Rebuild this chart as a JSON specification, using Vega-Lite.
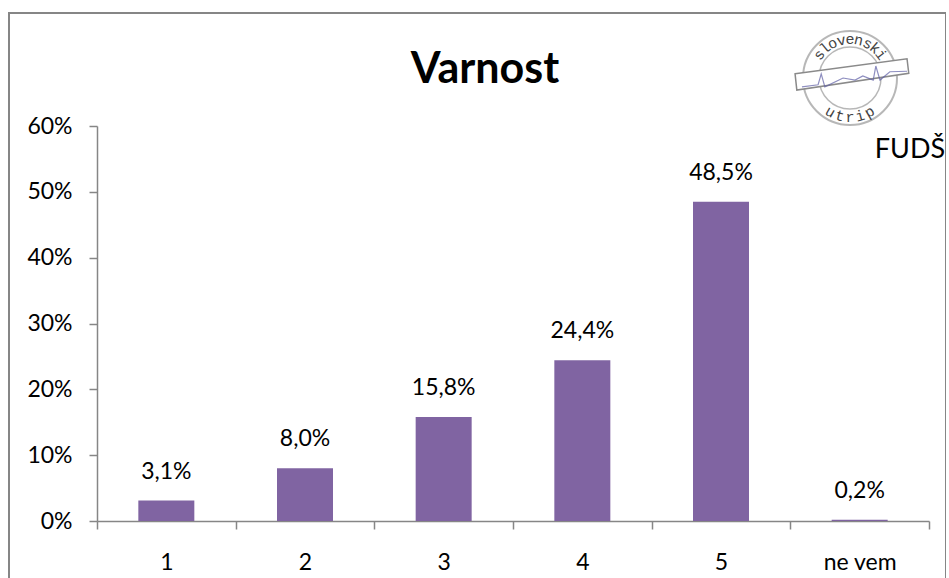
{"$schema":"https://vega.github.io/schema/vega-lite/v6.json","width":937,"height":575,"padding":{"left":9,"top":13,"right":0,"bottom":0},"autosize":"none","background":"white","data":{"values":[{"k":"1","v":3.1,"l":"3,1%"},{"k":"2","v":8.0,"l":"8,0%"},{"k":"3","v":15.8,"l":"15,8%"},{"k":"4","v":24.4,"l":"24,4%"},{"k":"5","v":48.5,"l":"48,5%"},{"k":"ne vem","v":0.2,"l":"0,2%"}]},"encoding":{"x":{"field":"k","type":"nominal","sort":null,"scale":{"range":[88,920],"paddingInner":0,"paddingOuter":0},"axis":{"title":null,"labelAngle":0,"labelFont":"Lato","labelFontSize":23,"labelColor":"#000000","domainColor":"#868686","domainWidth":1.5,"tickColor":"#868686","tickWidth":1.5,"tickSize":8,"tickBand":"extent","labelPadding":22,"offset":-67}},"y":{"field":"v","type":"quantitative","scale":{"domain":[0,60],"range":[508,113]},"axis":{"title":null,"values":[0,10,20,30,40,50,60],"labelExpr":"datum.value+'%'","grid":false,"labelFont":"Lato","labelFontSize":23,"labelColor":"#000000","domainColor":"#868686","domainWidth":1.5,"tickColor":"#868686","tickWidth":1.5,"tickSize":8,"labelPadding":17,"offset":-88}}},"layer":[{"mark":{"type":"bar","color":"#8064A2","width":56}},{"mark":{"type":"text","dy":-29,"font":"Lato","fontSize":23,"color":"#000000"},"encoding":{"text":{"field":"l"}}},{"data":{"values":[{"t":"Varnost"}]},"mark":{"type":"text","font":"Lato","fontSize":43,"fontWeight":"bold","color":"#000000","x":476,"y":57},"encoding":{"x":{},"y":{},"text":{"field":"t"}}},{"data":{"values":[{"t":"FUDŠ"}]},"mark":{"type":"text","font":"Lato","fontSize":27,"color":"#000000","x":901,"y":137},"encoding":{"x":{},"y":{},"text":{"field":"t"}}},{"data":{"values":[{"t":"logo"}]},"mark":{"type":"point","filled":false,"x":841,"y":65,"size":8836,"stroke":"#9a9a9a","strokeWidth":2},"encoding":{"x":{},"y":{}}},{"data":{"values":[{"t":"logo"}]},"mark":{"type":"point","filled":false,"x":841,"y":65,"size":3844,"stroke":"#9a9a9a","strokeWidth":1.5},"encoding":{"x":{},"y":{}}},{"data":{"values":[{"t":"logo"}]},"mark":{"type":"point","filled":true,"opacity":1,"x":843.5,"y":62,"size":13456,"fill":"#ffffff","stroke":"#8a8a8a","strokeWidth":1.5,"shape":"M-.99 -.02L.94 -.28L.97 -.03L-.96 .26Z"},"encoding":{"x":{},"y":{}}},{"data":{"values":[{"t":"logo"}]},"mark":{"type":"point","filled":false,"x":845.5,"y":65,"size":10816,"stroke":"#5f5fa6","strokeWidth":1.2,"shape":"M-1.01 .17L-.7 .13L-.64 -.08L-.57 .17L-.22 0L.01 .04L.16 -.04L.36 .04L.41 -.23L.49 .04L.68 -.12L1.01 -.13"},"encoding":{"x":{},"y":{}}},{"data":{"values":[{"c":"s","a":-53,"r":-53},{"c":"l","a":-40,"r":-40},{"c":"o","a":-27,"r":-27},{"c":"v","a":-13,"r":-13},{"c":"e","a":0,"r":0},{"c":"n","a":13,"r":13},{"c":"s","a":27,"r":27},{"c":"k","a":40,"r":40},{"c":"i","a":53,"r":53},{"c":"u","a":210,"r":30},{"c":"t","a":195,"r":15},{"c":"r","a":180,"r":0},{"c":"i","a":165,"r":-15},{"c":"p","a":150,"r":-30}]},"mark":{"type":"text","font":"Liberation Mono","fontSize":15,"color":"#444444","x":841,"y":65,"radius":39},"encoding":{"x":{},"y":{},"text":{"field":"c"},"theta":{"field":"a","type":"quantitative","scale":{"domain":[-180,360],"range":[-3.14159,6.28318]}},"angle":{"field":"r","type":"quantitative","scale":{"domain":[-180,180],"range":[-180,180]},"legend":null}}}],"config":{"view":{"stroke":"#868686","strokeWidth":2}}}
